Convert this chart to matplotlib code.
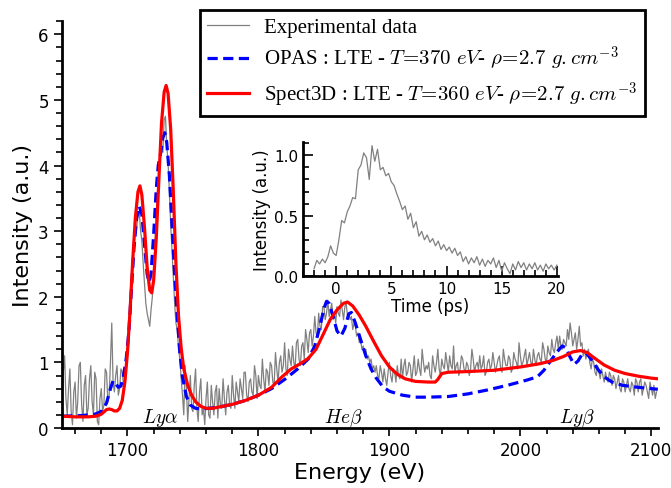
import numpy as np
import matplotlib
matplotlib.use("Agg")
import matplotlib.pyplot as plt
from matplotlib.ticker import MultipleLocator, FormatStrFormatter

plt.rcParams['mathtext.fontset'] = 'cm'
plt.rcParams['font.family'] = 'DejaVu Sans'

# experimental spectrum, one value per eV from 1650 eV
exp_start, exp_step = 1650, 1
exp_I = [0.30, 0.85, 1.10, 0.45, 0.20, 0.60, 0.90, 0.25, 0.05, 0.55, 0.70, 0.15, 0.40, 0.95, 1.00, 0.35, 0.10, 0.65, 0.80, 0.20,
         0.30, 0.75, 0.95, 0.40, 0.20, 0.85, 0.75, 0.10, 0.05, 0.45, 0.60, 0.25, 0.35, 0.90, 0.85, 0.40, 0.50, 1.00, 1.60, 0.70,
         0.55, 0.80, 0.95, 0.50, 0.60, 0.90, 0.85, 0.65, 0.75, 1.00, 1.25, 1.55, 1.90, 2.30, 2.60, 2.85, 3.10, 3.05, 3.25, 3.30,
         3.00, 2.85, 2.50, 2.20, 1.90, 1.75, 1.65, 1.55, 1.80, 2.00, 2.40, 2.80, 3.30, 3.60, 3.90, 4.10, 4.30, 4.20, 4.70, 4.75,
         4.30, 4.05, 3.60, 3.10, 2.70, 2.30, 1.90, 1.60, 1.50, 1.20, 1.05, 0.75, 0.50, 0.20, 0.95, 0.60, 0.10, 0.45, 0.80, 0.30,
         0.25, 0.65, 0.90, 0.30, 0.10, 0.55, 0.75, 0.20, 0.30, 0.05, 0.45, 0.70, 0.20, 0.15, 0.65, 0.40, 0.20, 0.55, 0.65, 0.15,
         0.60, 0.35, 0.30, 0.75, 0.45, 0.20, 0.55, 0.65, 0.35, 0.30, 0.80, 0.50, 0.30, 0.70, 0.55, 0.40, 0.75, 0.60, 0.45, 0.85,
         0.85, 0.50, 0.40, 0.70, 0.75, 0.55, 0.50, 0.95, 0.80, 0.45, 0.80, 0.65, 0.60, 1.05, 0.75, 0.55, 0.90, 0.85, 0.65, 1.00,
         0.95, 0.70, 0.65, 1.15, 0.90, 0.70, 1.00, 1.10, 0.85, 0.95, 1.30, 0.90, 0.80, 1.20, 1.05, 0.95, 1.25, 1.00, 0.90, 1.30,
         1.35, 1.05, 0.95, 1.25, 1.30, 1.05, 1.50, 1.35, 1.15, 1.45, 1.50, 1.25, 1.40, 1.70, 1.45, 1.40, 1.75, 1.55, 1.50, 1.85,
         1.85, 1.65, 1.75, 1.95, 1.70, 1.80, 1.90, 1.65, 1.75, 1.60, 1.85, 1.75, 1.70, 1.95, 1.80, 1.65, 1.85, 1.90, 1.70, 1.75,
         1.65, 1.70, 1.50, 1.60, 1.55, 1.40, 1.45, 1.30, 1.35, 1.20, 1.25, 1.15, 1.20, 1.05, 1.10, 1.00, 1.05, 0.90, 0.95, 0.85,
         0.95, 0.80, 0.75, 0.95, 0.85, 0.70, 0.90, 0.75, 0.65, 0.85, 1.00, 0.80, 0.70, 0.90, 0.85, 0.70, 0.95, 0.80, 0.75, 1.05,
         0.75, 0.95, 1.05, 0.80, 0.85, 1.00, 0.95, 0.70, 0.90, 1.10, 0.80, 0.85, 1.05, 0.90, 0.80, 1.20, 1.00, 0.85, 0.95, 0.90,
         1.00, 0.80, 0.75, 1.10, 0.95, 0.85, 1.00, 1.20, 0.90, 0.80, 1.05, 0.95, 0.90, 1.15, 1.00, 0.85, 1.10, 0.95, 0.90, 1.25,
         0.85, 0.95, 1.00, 0.80, 0.90, 1.10, 1.05, 0.90, 0.85, 1.00, 0.95, 0.80, 0.90, 1.20, 1.05, 0.85, 0.95, 1.00, 0.90, 1.10,
         0.90, 0.95, 1.10, 0.80, 0.85, 1.00, 1.05, 0.90, 0.95, 1.15, 1.00, 0.85, 0.95, 1.05, 1.10, 0.90, 0.85, 1.20, 1.05, 0.95,
         0.95, 1.10, 1.05, 0.85, 0.90, 1.15, 1.05, 1.00, 0.90, 1.30, 1.10, 0.95, 1.00, 1.10, 1.20, 0.95, 1.05, 1.15, 1.00, 0.95,
         1.20, 1.05, 0.95, 1.10, 1.15, 1.05, 1.00, 1.30, 1.20, 1.05, 1.00, 1.25, 1.15, 1.10, 1.35, 1.20, 1.15, 1.30, 1.40, 1.20,
         1.40, 1.25, 1.20, 1.35, 1.30, 1.25, 1.50, 1.35, 1.60, 1.45, 1.25, 1.35, 1.45, 1.20, 1.35, 1.55, 1.25, 1.30, 1.10, 1.20,
         1.05, 1.15, 1.20, 1.00, 0.90, 1.05, 1.00, 0.85, 0.80, 0.95, 0.85, 0.75, 0.90, 0.80, 0.70, 0.85, 0.75, 0.70, 0.85, 0.80,
         0.65, 0.80, 0.75, 0.60, 0.70, 0.80, 0.60, 0.55, 0.75, 0.70, 0.55, 0.65, 0.75, 0.60, 0.55, 0.70, 0.65, 0.50, 0.75, 0.70,
         0.55, 0.70, 0.75, 0.50, 0.60, 0.70, 0.65, 0.55, 0.45, 0.70, 0.60, 0.50, 0.65, 0.45, 0.55]

# OPAS model
opas_E = [1650, 1665, 1675, 1680, 1684, 1687, 1689, 1691, 1693, 1695,
          1697, 1699, 1701, 1703, 1705, 1707, 1709, 1711, 1713, 1715,
          1716.5, 1718, 1720, 1722, 1723.5, 1725, 1727, 1728.5, 1730, 1732,
          1734, 1736, 1738, 1740, 1742, 1745, 1748, 1752, 1756, 1762,
          1770, 1780, 1790, 1800, 1810, 1820, 1830, 1838, 1843, 1847,
          1850, 1852, 1854, 1857, 1860, 1863, 1866, 1869, 1871, 1874,
          1878, 1882, 1886, 1890, 1895, 1900, 1910, 1920, 1930, 1945,
          1960, 1975, 1990, 2005, 2013, 2018, 2023, 2028, 2032, 2035,
          2038, 2041, 2044, 2047, 2050, 2054, 2059, 2064, 2070, 2078,
          2090, 2100, 2105]
opas_I = [0.18, 0.19, 0.21, 0.25, 0.38, 0.60, 0.72, 0.68, 0.62, 0.64,
          0.80, 1.05, 1.45, 2.10, 2.75, 3.20, 3.38, 3.25, 2.80, 2.35,
          2.22, 2.35, 2.95, 3.65, 4.00, 4.15, 4.42, 4.50, 4.35, 3.85,
          3.10, 2.35, 1.70, 1.15, 0.78, 0.48, 0.35, 0.30, 0.29, 0.30,
          0.32, 0.36, 0.42, 0.50, 0.60, 0.74, 0.90, 1.05, 1.25, 1.55,
          1.82, 1.93, 1.90, 1.70, 1.48, 1.40, 1.52, 1.74, 1.76, 1.60,
          1.35, 1.10, 0.90, 0.76, 0.63, 0.56, 0.50, 0.47, 0.47, 0.48,
          0.52, 0.58, 0.65, 0.73, 0.78, 0.88, 1.02, 1.16, 1.25, 1.22,
          1.08, 0.97, 1.02, 1.12, 1.15, 1.05, 0.90, 0.78, 0.70, 0.65,
          0.62, 0.60, 0.59]

# Spect3D model
spect_E = [1650, 1660, 1670, 1676, 1680, 1684, 1686, 1688, 1690, 1692,
           1694, 1696, 1698, 1700, 1702, 1704, 1706, 1708, 1709.5, 1711,
           1713, 1715, 1717, 1718.5, 1720, 1722, 1724, 1726, 1728, 1729.5,
           1731, 1733, 1735, 1737, 1739, 1741, 1743, 1746, 1749, 1752,
           1756, 1760, 1765, 1770, 1780, 1790, 1800, 1810, 1818, 1825,
           1832, 1838, 1844, 1850, 1855, 1860, 1865, 1868, 1872, 1877,
           1882, 1888, 1894, 1900, 1906, 1912, 1920, 1930, 1935, 1937,
           1940, 1945, 1960, 1980, 2000, 2015, 2025, 2033, 2040, 2046,
           2051, 2057, 2064, 2072, 2080, 2090, 2100, 2105]
spect_I = [0.18, 0.17, 0.17, 0.18, 0.21, 0.28, 0.29, 0.28, 0.26, 0.26,
           0.30, 0.42, 0.70, 1.15, 1.80, 2.55, 3.20, 3.60, 3.69, 3.55,
           3.05, 2.45, 2.10, 2.06, 2.25, 2.90, 3.80, 4.65, 5.12, 5.22,
           5.10, 4.55, 3.60, 2.50, 1.70, 1.22, 0.90, 0.65, 0.50, 0.40,
           0.33, 0.30, 0.30, 0.32, 0.36, 0.42, 0.50, 0.62, 0.78, 0.90,
           0.98, 1.06, 1.20, 1.45, 1.66, 1.80, 1.90, 1.92, 1.86, 1.72,
           1.55, 1.32, 1.10, 0.93, 0.82, 0.75, 0.71, 0.70, 0.70, 0.74,
           0.83, 0.85, 0.86, 0.88, 0.93, 0.98, 1.03, 1.09, 1.16, 1.18,
           1.15, 1.06, 0.96, 0.88, 0.83, 0.79, 0.76, 0.75]

# inset: time profile, one value every 0.25 ps from -2 ps
t_start, t_step = -2.0, 0.25
t_I = [0.06, 0.13, 0.10, 0.14, 0.11, 0.16, 0.25, 0.19, 0.17, 0.30,
       0.46, 0.44, 0.53, 0.58, 0.65, 0.64, 0.88, 0.92, 1.02, 0.98,
       0.80, 1.08, 0.95, 1.05, 0.88, 0.90, 0.83, 0.85, 0.78, 0.75,
       0.68, 0.62, 0.55, 0.58, 0.47, 0.52, 0.40, 0.45, 0.33, 0.37,
       0.30, 0.34, 0.28, 0.31, 0.25, 0.29, 0.22, 0.26, 0.21, 0.24,
       0.19, 0.23, 0.17, 0.20, 0.12, 0.16, 0.10, 0.15, 0.11, 0.16,
       0.09, 0.14, 0.08, 0.13, 0.10, 0.15, 0.07, 0.13, 0.04, 0.11,
       0.06, 0.02, 0.10, 0.05, 0.12, 0.07, 0.11, 0.05, 0.10, 0.06,
       0.11, 0.05, 0.09, 0.04, 0.10, 0.06, 0.09, 0.05, 0.09]

line_labels = ["Experimental data",
               r"OPAS : LTE - $T\!=\!370\ eV$- $\rho\!=\!2.7\ g.cm^{-3}$",
               r"Spect3D : LTE - $T\!=\!360\ eV$- $\rho\!=\!2.7\ g.cm^{-3}$"]
peak_names = [r"$Ly\alpha$", r"$He\beta$", r"$Ly\beta$"]
peak_pos = [1725, 1865, 2043]

exp_E = exp_start + exp_step * np.arange(len(exp_I))
t = t_start + t_step * np.arange(len(t_I))

fig = plt.figure(figsize=(6.71, 4.89), dpi=100)
ax = fig.add_axes([0.0924, 0.1227, 0.888, 0.832])

ax.plot(exp_E, exp_I, color='#808080', lw=0.9, label=line_labels[0])
ax.plot(opas_E, opas_I, color='#0000ff', lw=2.3, ls=(0, (3.2, 1.7)), label=line_labels[1])
ax.plot(spect_E, spect_I, color='#ff0000', lw=2.3, label=line_labels[2])

for name, pos in zip(peak_names, peak_pos):
    ax.text(pos, 0.17, name, fontsize=14, ha='center', va='center')

ax.set_xlim(1650, 2105)
ax.set_ylim(0, 6.2)
ax.xaxis.set_major_locator(MultipleLocator(100))
ax.xaxis.set_minor_locator(MultipleLocator(20))
ax.yaxis.set_major_locator(MultipleLocator(1))
ax.yaxis.set_minor_locator(MultipleLocator(0.2))
for s in ['top', 'right']:
    ax.spines[s].set_visible(False)
for s in ['left', 'bottom']:
    ax.spines[s].set_linewidth(2.0)
ax.tick_params(which='major', direction='out', length=6, width=1.2, labelsize=12)
ax.tick_params(which='minor', direction='out', length=4, width=1.2)
ax.set_xlabel("Energy (eV)", fontsize=16, labelpad=2)
ax.set_ylabel("Intensity (a.u.)", fontsize=16, labelpad=4)

leg = ax.legend(loc='upper right', bbox_to_anchor=(645 / 671, 1 - 11 / 489),
                bbox_transform=fig.transFigure, borderaxespad=0,
                prop={'family': 'Liberation Serif', 'size': 15},
                fancybox=False, framealpha=1, edgecolor='black',
                handlelength=2.0, handletextpad=0.75, labelspacing=0.35,
                borderpad=0.35)
leg.get_frame().set_linewidth(2.0)

# inset with the time profile
ins = fig.add_axes([0.4516, 0.4335, 0.380, 0.274])
ins.set_facecolor('none')
ins.plot(t, t_I, color='#808080', lw=0.9)
ins.set_xlim(-3, 20.1)
ins.set_ylim(0, 1.11)
ins.xaxis.set_major_locator(MultipleLocator(5))
ins.xaxis.set_minor_locator(MultipleLocator(1))
ins.yaxis.set_major_locator(MultipleLocator(0.5))
ins.yaxis.set_minor_locator(MultipleLocator(0.1))
ins.yaxis.set_major_formatter(FormatStrFormatter('%.1f'))
for s in ['top', 'right']:
    ins.spines[s].set_visible(False)
for s in ['left', 'bottom']:
    ins.spines[s].set_linewidth(2.0)
ins.tick_params(which='major', direction='in', length=7, width=1.2, labelsize=11)
ins.tick_params(which='minor', direction='in', length=4, width=1.2)
ins.set_xlabel("Time (ps)", fontsize=12, labelpad=1)
ins.set_ylabel("Intensity (a.u.)", fontsize=12, labelpad=2)

fig.savefig("out.png", dpi=100)
